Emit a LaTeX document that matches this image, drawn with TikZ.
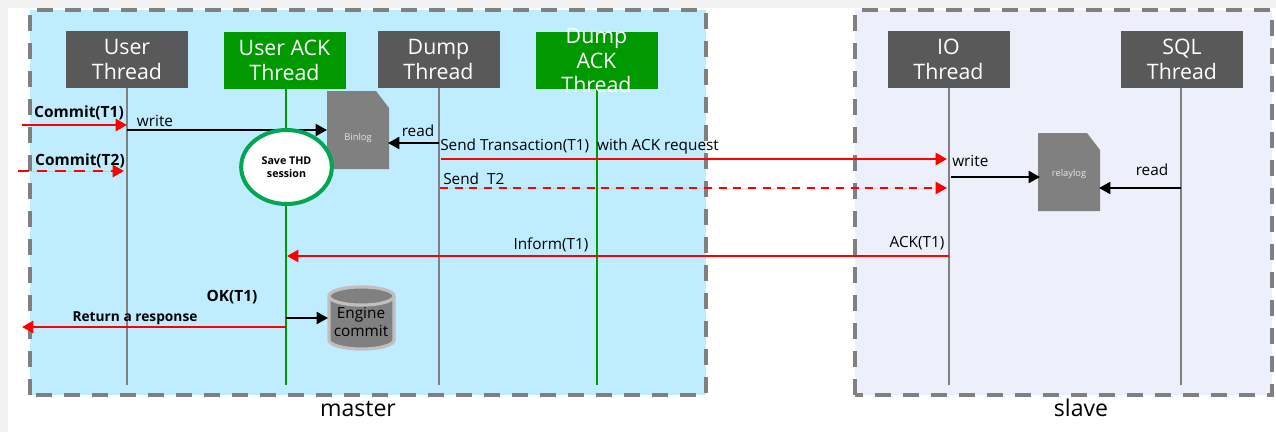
\documentclass[tikz,border=0pt]{standalone}
\usepackage{fontspec}
\setmainfont{Open Sans}
\usetikzlibrary{shapes.geometric,arrows.meta}
\definecolor{masterblue}{HTML}{BFEDFF}
\definecolor{slaveblue}{HTML}{EDF0FA}
\definecolor{threadgray}{HTML}{595959}
\definecolor{threadgreen}{HTML}{009900}
\definecolor{sessiongreen}{HTML}{00A651}
\tikzset{
  hostbox/.style={draw=black!50, line width=2.6pt, dash pattern=on 12pt off 9pt},
  hostlabel/.style={inner sep=0pt, font=\fontsize{17.3}{20}\selectfont},
  graythread/.style={fill=threadgray, minimum width=91.5pt, minimum height=43pt, inner sep=0pt},
  greenthread/.style={graythread, fill=threadgreen},
  threadtext/.style={text=white, inner sep=0pt, align=center, font=\fontsize{16}{18.5}\selectfont},
  grayline/.style={draw=black!50, line width=1.2pt},
  greenline/.style={draw=threadgreen, line width=1.5pt},
  msg/.style={-{Triangle[length=8.5pt,width=9pt]}, line width=1.5pt},
  redmsg/.style={msg, draw=red, fill=red, line width=1.8pt},
  redthick/.style={redmsg, line width=2.2pt},
  reddash/.style={redmsg, line width=1.5pt, dash pattern=on 6pt off 5pt},
  redthickdash/.style={redmsg, line width=2pt, dash pattern=on 8pt off 6pt},
  label/.style={inner sep=0pt, font=\fontsize{11.5}{13}\selectfont},
  boldlabel/.style={label, font=\fontsize{11.6}{13}\selectfont\bfseries},
  filelabel/.style={inner sep=0pt, text=white!90!black, font=\fontsize{7}{8}\selectfont}
}
\begin{document}
\begin{tikzpicture}[x=0.75pt,y=-0.75pt]
\useasboundingbox (0,0) rectangle (1276,432);
\fill[black!5] (0,0) rectangle (1276,432);
\fill[white] (8,8) rectangle (1276,432);
%%Hosts
\path[fill=masterblue] (30,10) rectangle (706,395);
\path[fill=slaveblue] (855,10) rectangle (1272,395);
\draw[hostbox] (30,395) -- (30,10) -- (706,10) -- (706,395) -- cycle;
\draw[hostbox] (855,395) -- (855,10) -- (1272,10) -- (1272,395) -- cycle;
\node[hostlabel] (masterlabel) at (358,409) {master};
\node[hostlabel] (slavelabel) at (1081,408) {slave};
%%Ends of the thread lines
\coordinate (UserEnd) at (127,385);
\coordinate (UserAckEnd) at (286,385);
\coordinate (DumpEnd) at (439,385);
\coordinate (DumpAckEnd) at (597,385);
\coordinate (IOEnd) at (949,385);
\coordinate (SQLEnd) at (1181,385);
%%Threads
\node[graythread] (User) at (127,59.5) {};
\node[greenthread] (UserAck) at (284.5,60.5) {};
\node[graythread] (Dump) at (438.5,59.5) {};
\node[greenthread] (DumpAck) at (596.5,60.5) {};
\node[graythread] (IO) at (948.5,59.5) {};
\node[graythread] (SQL) at (1182,59.5) {};
\draw[grayline] (User.south -| UserEnd) -- (UserEnd);
\draw[greenline] (UserAck.south -| UserAckEnd) -- (UserAckEnd);
\draw[grayline] (Dump.south -| DumpEnd) -- (DumpEnd);
\draw[greenline] (DumpAck.south -| DumpAckEnd) -- (DumpAckEnd);
\draw[grayline] (IO.south -| IOEnd) -- (IOEnd);
\draw[grayline] (SQL.south -| SQLEnd) -- (SQLEnd);
\node[threadtext] (UserText) at (User) {User\\Thread};
\node[threadtext] (UserAckText) at (UserAck) {User ACK\\Thread};
\node[threadtext] (DumpText) at (Dump) {Dump\\Thread};
\node[threadtext] (DumpAckText) at (DumpAck) {Dump\\ACK\\Thread};
\node[threadtext] (IOText) at (IO) {IO\\Thread};
\node[threadtext] (SQLText) at (SQL) {SQL\\Thread};
%%Files
\fill[black!50] (327,91) -- (376,91) -- (389,108) -- (389,169) -- (327,169) -- cycle;
\node[filelabel, minimum width=46pt, minimum height=58pt] (Binlog) at (358,138) {Binlog};
\fill[black!50] (1038,133) -- (1087,133) -- (1100,150) -- (1100,211) -- (1038,211) -- cycle;
\node[filelabel, minimum width=46pt, minimum height=58pt] (Relaylog) at (1069,174) {relaylog};
\draw[draw=black!25, fill=black!50, line width=2.4pt] (329,296) -- (329,340) arc (180:360:24.4pt and 6.8pt) -- (394,296);
\draw[draw=black!25, fill=black!50, line width=2.4pt] (361.5,296) ellipse (24.4pt and 6.8pt);
\node[inner sep=0pt, align=center, font=\fontsize{11.5}{13.5}\selectfont] (Engine) at (361,322) {Engine\\commit};
%%Messages
\coordinate (CommitOne) at (22,125);
\coordinate (CommitTwo) at (18,171);
\coordinate (Client) at (22,327);
\draw[redthick] (CommitOne) -- (127,125);
\draw[redthickdash] (CommitTwo) -- (124,171);
\draw[msg] (127,130) -- (327,130);
\draw[msg] (439,143) -- (388,143);
\draw[redmsg] (441,159) -- (947,159);
\draw[reddash] (440,188) -- (947,188);
\draw[msg] (951,177) -- (1040,177);
\draw[msg] (1181,188) -- (1099,188);
\draw[redmsg] (949,256) -- (287,256);
\draw[redthick] (286,327) -- (Client);
\draw[msg] (286,318) -- (328,318);
%%Session
\node[ellipse, draw=sessiongreen, fill=white, line width=3pt, minimum width=68pt, minimum height=55.5pt, inner sep=0pt, align=center, font=\fontsize{8}{9.5}\selectfont\bfseries] (Session) at (286.5,167) {Save THD\\session};
%%Labels
\node[boldlabel] (CommitOneText) at (79,113) {Commit(T1)};
\node[boldlabel] (CommitTwoText) at (80,161) {Commit(T2)};
\node[label] (WriteOne) at (155,121) {write};
\node[label] (ReadOne) at (418,131) {read};
\node[label, anchor=west] (SendOne) at (440,147) {Send Transaction(T1)\ \ with ACK request};
\node[label, anchor=west] (SendTwo) at (443,179) {Send\ \ T2};
\node[label, anchor=west] (WriteTwo) at (952,161) {write};
\node[label] (ReadTwo) at (1152,170) {read};
\node[label] (Inform) at (551,245) {Inform(T1)};
\node[label] (Ack) at (917,243) {ACK(T1)};
\node[boldlabel] (Ok) at (232,297) {OK(T1)};
\node[boldlabel, font=\fontsize{10.3}{12}\selectfont\bfseries] (Response) at (135,318) {Return a response};
\end{tikzpicture}
\end{document}
